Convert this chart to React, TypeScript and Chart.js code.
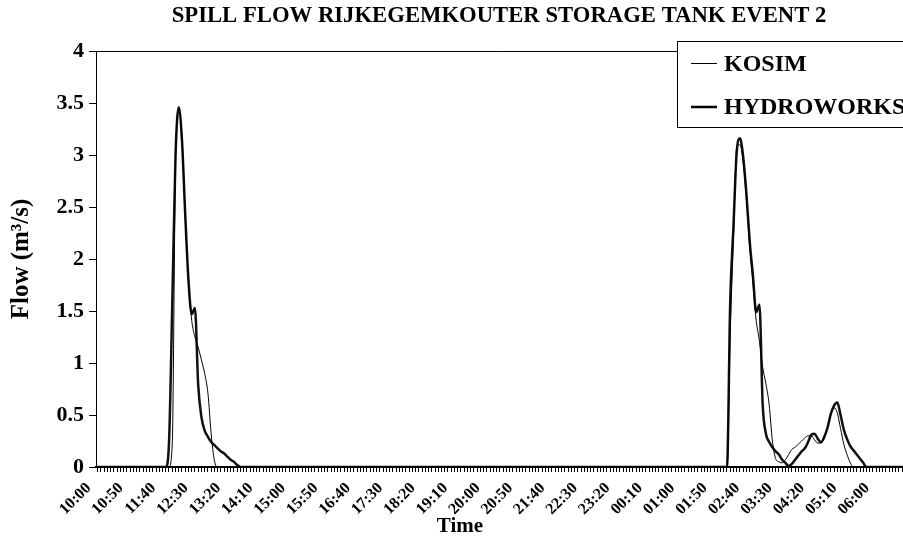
import { useEffect, useRef } from "react";
import { Chart, registerables } from "chart.js";

Chart.register(...registerables);

// ---- data ----
const START_MINUTES = 10 * 60; // 10:00
const STEP_MINUTES = 5;
const CATEGORY_COUNT = 250; // 10:00 .. 06:45
const categories: string[] = [];
for (let i = 0; i < CATEGORY_COUNT; i++) {
  const m = (START_MINUTES + i * STEP_MINUTES) % 1440;
  categories.push(
    `${String(Math.floor(m / 60)).padStart(2, "0")}:${String(m % 60).padStart(2, "0")}`
  );
}

const titleText = "SPILL FLOW RIJKEGEMKOUTER STORAGE TANK EVENT 2";
const xTitle = "Time";
const yTitle = "Flow (m³/s)";
const seriesNames = ["KOSIM", "HYDROWORKS"];
const yTickValues = [0, 0.5, 1, 1.5, 2, 2.5, 3, 3.5, 4];

// one row = 10 samples of 5 minutes (50 min)
const kosim: number[] = [
  0, 0, 0, 0, 0, 0, 0, 0, 0, 0,
  0, 0, 0, 0, 0, 0, 0, 0, 0, 0,
  0, 0, 0, 0.22, 2.9, 3.42, 3.17, 2.42, 1.77, 1.41,
  1.25, 1.15, 1.03, 0.9, 0.71, 0.32, 0.06, 0, 0, 0,
  0, 0, 0, 0, 0, 0, 0, 0, 0, 0,
  0, 0, 0, 0, 0, 0, 0, 0, 0, 0,
  0, 0, 0, 0, 0, 0, 0, 0, 0, 0,
  0, 0, 0, 0, 0, 0, 0, 0, 0, 0,
  0, 0, 0, 0, 0, 0, 0, 0, 0, 0,
  0, 0, 0, 0, 0, 0, 0, 0, 0, 0,
  0, 0, 0, 0, 0, 0, 0, 0, 0, 0,
  0, 0, 0, 0, 0, 0, 0, 0, 0, 0,
  0, 0, 0, 0, 0, 0, 0, 0, 0, 0,
  0, 0, 0, 0, 0, 0, 0, 0, 0, 0,
  0, 0, 0, 0, 0, 0, 0, 0, 0, 0,
  0, 0, 0, 0, 0, 0, 0, 0, 0, 0,
  0, 0, 0, 0, 0, 0, 0, 0, 0, 0,
  0, 0, 0, 0, 0, 0, 0, 0, 0, 0,
  0, 0, 0, 0, 0, 0, 0, 0, 0, 0,
  0, 0, 0, 0, 0, 1.3, 2.2, 3.07, 3.1, 2.93,
  2.57, 2.12, 1.77, 1.41, 1.21, 0.96, 0.8, 0.6, 0.25, 0.08,
  0.05, 0.04, 0.07, 0.12, 0.17, 0.19, 0.22, 0.25, 0.28, 0.3,
  0.3, 0.26, 0.23, 0.23, 0.29, 0.38, 0.5, 0.57, 0.52, 0.37,
  0.22, 0.12, 0.04, 0, 0, 0, 0, 0, 0, 0,
  0, 0, 0, 0, 0, 0, 0, 0, 0, 0,
];

const hydroworks: number[] = [
  0, 0, 0, 0, 0, 0, 0, 0, 0, 0,
  0, 0, 0, 0, 0, 0, 0, 0, 0, 0,
  0, 0, 0.23, 1.55, 2.98, 3.46, 3.14, 2.43, 1.8, 1.47,
  1.53, 0.79, 0.48, 0.35, 0.29, 0.24, 0.21, 0.18, 0.15, 0.13,
  0.1, 0.07, 0.05, 0.02, 0, 0, 0, 0, 0, 0,
  0, 0, 0, 0, 0, 0, 0, 0, 0, 0,
  0, 0, 0, 0, 0, 0, 0, 0, 0, 0,
  0, 0, 0, 0, 0, 0, 0, 0, 0, 0,
  0, 0, 0, 0, 0, 0, 0, 0, 0, 0,
  0, 0, 0, 0, 0, 0, 0, 0, 0, 0,
  0, 0, 0, 0, 0, 0, 0, 0, 0, 0,
  0, 0, 0, 0, 0, 0, 0, 0, 0, 0,
  0, 0, 0, 0, 0, 0, 0, 0, 0, 0,
  0, 0, 0, 0, 0, 0, 0, 0, 0, 0,
  0, 0, 0, 0, 0, 0, 0, 0, 0, 0,
  0, 0, 0, 0, 0, 0, 0, 0, 0, 0,
  0, 0, 0, 0, 0, 0, 0, 0, 0, 0,
  0, 0, 0, 0, 0, 0, 0, 0, 0, 0,
  0, 0, 0, 0, 0, 0, 0, 0, 0, 0,
  0, 0, 0, 0, 0, 1.6, 2.32, 3.03, 3.16, 2.98,
  2.62, 2.17, 1.84, 1.49, 1.56, 0.6, 0.32, 0.24, 0.19, 0.15,
  0.12, 0.07, 0.04, 0.01, 0.03, 0.07, 0.11, 0.15, 0.18, 0.24,
  0.31, 0.32, 0.27, 0.24, 0.29, 0.38, 0.51, 0.59, 0.62, 0.5,
  0.36, 0.27, 0.2, 0.16, 0.12, 0.08, 0.04, 0, 0, 0,
  0, 0, 0, 0, 0, 0, 0, 0, 0, 0,
];

const FONT = "'Liberation Serif', 'Times New Roman', serif";

const overlayPlugin = {
  id: "overlay",
  afterDraw(chart: any) {
    const { ctx, chartArea } = chart;
    ctx.save();
    // plot frame (top edge)
    ctx.strokeStyle = "#000";
    ctx.lineWidth = 1;
    ctx.beginPath();
    ctx.moveTo(chartArea.left, Math.round(chartArea.top) + 0.5);
    ctx.lineTo(chartArea.right, Math.round(chartArea.top) + 0.5);
    ctx.stroke();

    // chart title
    ctx.fillStyle = "#000";
    ctx.font = `bold 22.7px ${FONT}`;
    ctx.textAlign = "center";
    ctx.textBaseline = "middle";
    ctx.fillText(titleText, 499, 16);

    // legend box
    const bx = 677.5;
    const by = 41.5;
    ctx.fillStyle = "#fff";
    ctx.fillRect(bx, by, 300, 86);
    ctx.strokeStyle = "#000";
    ctx.lineWidth = 1;
    ctx.strokeRect(bx, by, 300, 86);

    const entries = [
      { name: seriesNames[0], width: 1, y: 63.5 },
      { name: seriesNames[1], width: 2.5, y: 107 },
    ];
    ctx.font = `bold 24px ${FONT}`;
    ctx.textBaseline = "middle";
    ctx.textAlign = "left";
    entries.forEach((e) => {
      ctx.strokeStyle = "#000";
      ctx.lineWidth = e.width;
      ctx.beginPath();
      ctx.moveTo(691, e.y);
      ctx.lineTo(717, e.y);
      ctx.stroke();
      ctx.fillStyle = "#000";
      ctx.fillText(e.name, 724, Math.round(e.y) + 1);
    });

    // x axis title
    ctx.font = `bold 21px ${FONT}`;
    ctx.textAlign = "center";
    ctx.fillText(xTitle, 460, 527);
    ctx.restore();
  },
};

export default function App() {
  const canvasRef = useRef<HTMLCanvasElement | null>(null);

  useEffect(() => {
    if (!canvasRef.current) return;
    Chart.defaults.font.family = FONT;
    const chart = new Chart(canvasRef.current, {
      type: "line",
      data: {
        labels: categories,
        datasets: [
          {
            label: seriesNames[0],
            data: kosim,
            borderColor: "#000",
            borderWidth: 1,
            pointRadius: 0,
            cubicInterpolationMode: "monotone",
            fill: false,
          },
          {
            label: seriesNames[1],
            data: hydroworks,
            borderColor: "#111",
            borderWidth: 2.5,
            pointRadius: 0,
            cubicInterpolationMode: "monotone",
            fill: false,
          },
        ],
      },
      options: {
        animation: false,
        responsive: false,
        devicePixelRatio: 1,
        layout: { padding: { top: 51, left: 0, right: 0, bottom: 0 } },
        plugins: {
          legend: { display: false },
          tooltip: { enabled: false },
          title: { display: false },
        },
        scales: {
          x: {
            type: "category",
            offset: true,
            grid: {
              display: true,
              offset: false,
              drawOnChartArea: false,
              drawTicks: true,
              tickLength: 5,
              color: "#000",
              lineWidth: 1,
            },
            border: { display: true, color: "#000", width: 2 },
            ticks: {
              autoSkip: false,
              maxRotation: 45,
              minRotation: 45,
              padding: 7,
              labelOffset: -9,
              color: "#000",
              font: { family: FONT, size: 16, weight: "bold" },
              callback: (_v: any, i: number) => (i % 10 === 0 ? categories[i] : ""),
            },
            afterFit: (s: any) => {
              s.height = 80;
            },
          },
          y: {
            min: 0,
            max: 4,
            afterBuildTicks: (s: any) => {
              s.ticks = yTickValues.map((v) => ({ value: v }));
            },
            grid: {
              display: true,
              drawOnChartArea: false,
              drawTicks: true,
              tickLength: 7,
              color: "#000",
              lineWidth: 1,
            },
            border: { display: true, color: "#000", width: 1 },
            ticks: {
              padding: 5,
              color: "#000",
              font: { family: FONT, size: 22, weight: "bold" },
              callback: (v: any) => String(v),
            },
            title: {
              display: true,
              text: yTitle,
              color: "#000",
              font: { family: FONT, size: 25, weight: "bold" },
              padding: { top: 7, bottom: 0 },
            },
            afterFit: (s: any) => {
              s.width = 96;
            },
          },
        },
      },
      plugins: [overlayPlugin],
    } as any);
    return () => chart.destroy();
  }, []);

  return (
    <div
      style={{
        position: "fixed",
        left: 0,
        top: 0,
        width: 903,
        height: 547,
        overflow: "hidden",
        background: "#fff",
      }}
    >
      <canvas ref={canvasRef} width={926} height={547} style={{ display: "block" }} />
    </div>
  );
}
